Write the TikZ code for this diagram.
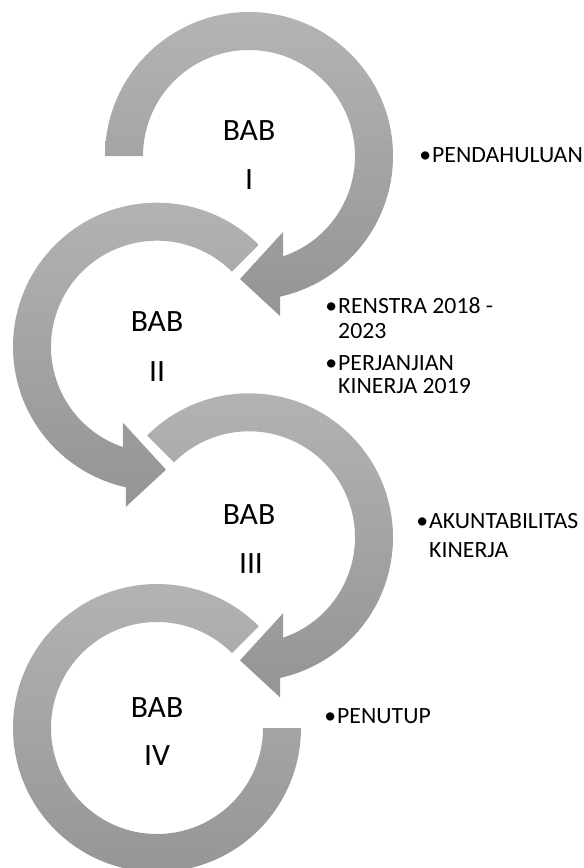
\documentclass[tikz,border=0pt]{standalone}
\usepackage{fontspec}
\setmainfont{Carlito}[FakeStretch=1.02]
\definecolor{ringtop}{RGB}{180,180,180}
\definecolor{ringbot}{RGB}{148,148,148}
\begin{document}
\begin{tikzpicture}[x=1pt,y=1pt,
  ring/.style={top color=ringtop,bottom color=ringbot,draw=none},
  babtext/.style={anchor=base,font=\fontsize{31}{36}\selectfont,inner sep=0pt},
  itemtext/.style={anchor=base west,font=\fontsize{23.3}{28}\selectfont,inner sep=0pt}]
\useasboundingbox (0,0) rectangle (584,-868);
\clip (0,0) rectangle (584,-868);
% circle 1
\begin{scope}[shift={(249,-156)}]
\path[ring] (180:144) arc[start angle=180,end angle=-77.5,radius=144] -- (31,-160) -- (-9,-123) -- (34,-76) -- (-71.2:106) arc[start angle=-71.2,end angle=180,radius=106] -- cycle;
\end{scope}
% circle 2
\begin{scope}[shift={(157,-346.7)},xscale=-1]
\path[ring] (135:144) arc[start angle=135,end angle=-77.5,radius=144] -- (31,-160) -- (-9,-123) -- (34,-76) -- (-71.2:106) arc[start angle=-71.2,end angle=135,radius=106] -- cycle;
\end{scope}
% circle 3
\begin{scope}[shift={(249,-537.3)}]
\path[ring] (135:144) arc[start angle=135,end angle=-77.5,radius=144] -- (31,-160) -- (-9,-123) -- (34,-76) -- (-71.2:106) arc[start angle=-71.2,end angle=135,radius=106] -- cycle;
\end{scope}
% circle 4
\begin{scope}[shift={(157,-728)}]
\path[ring] (45:144) arc[start angle=45,end angle=360,radius=144] -- (0:106) arc[start angle=360,end angle=45,radius=106] -- cycle;
\end{scope}
% titles
\node[babtext] (b1) at (249,-140) {BAB};
\node[babtext] (n1) at (249,-189.5) {I};
\node[babtext] (b2) at (157,-331.5) {BAB};
\node[babtext] (n2) at (157,-381.5) {II};
\node[babtext] (b3) at (249,-524) {BAB};
\node[babtext] (n3) at (251,-573) {III};
\node[babtext] (b4) at (157,-717) {BAB};
\node[babtext] (n4) at (157,-765) {IV};
% items
\node[itemtext] (t1) at (432,-162) {\llap{•\kern1pt}PENDAHULUAN};
\node[itemtext] (t2a) at (338,-313) {\llap{•\kern1pt}RENSTRA 2018 -};
\node[itemtext] (t2b) at (338,-338) {2023};
\node[itemtext] (t2c) at (338,-370) {\llap{•\kern1pt}PERJANJIAN};
\node[itemtext] (t2d) at (338,-393) {KINERJA 2019};
\node[itemtext] (t3a) at (429,-528) {\llap{•\kern1pt}AKUNTABILITAS};
\node[itemtext] (t3b) at (429,-557) {KINERJA};
\node[itemtext] (t4) at (337,-723) {\llap{•\kern1pt}PENUTUP};
\end{tikzpicture}
\end{document}
